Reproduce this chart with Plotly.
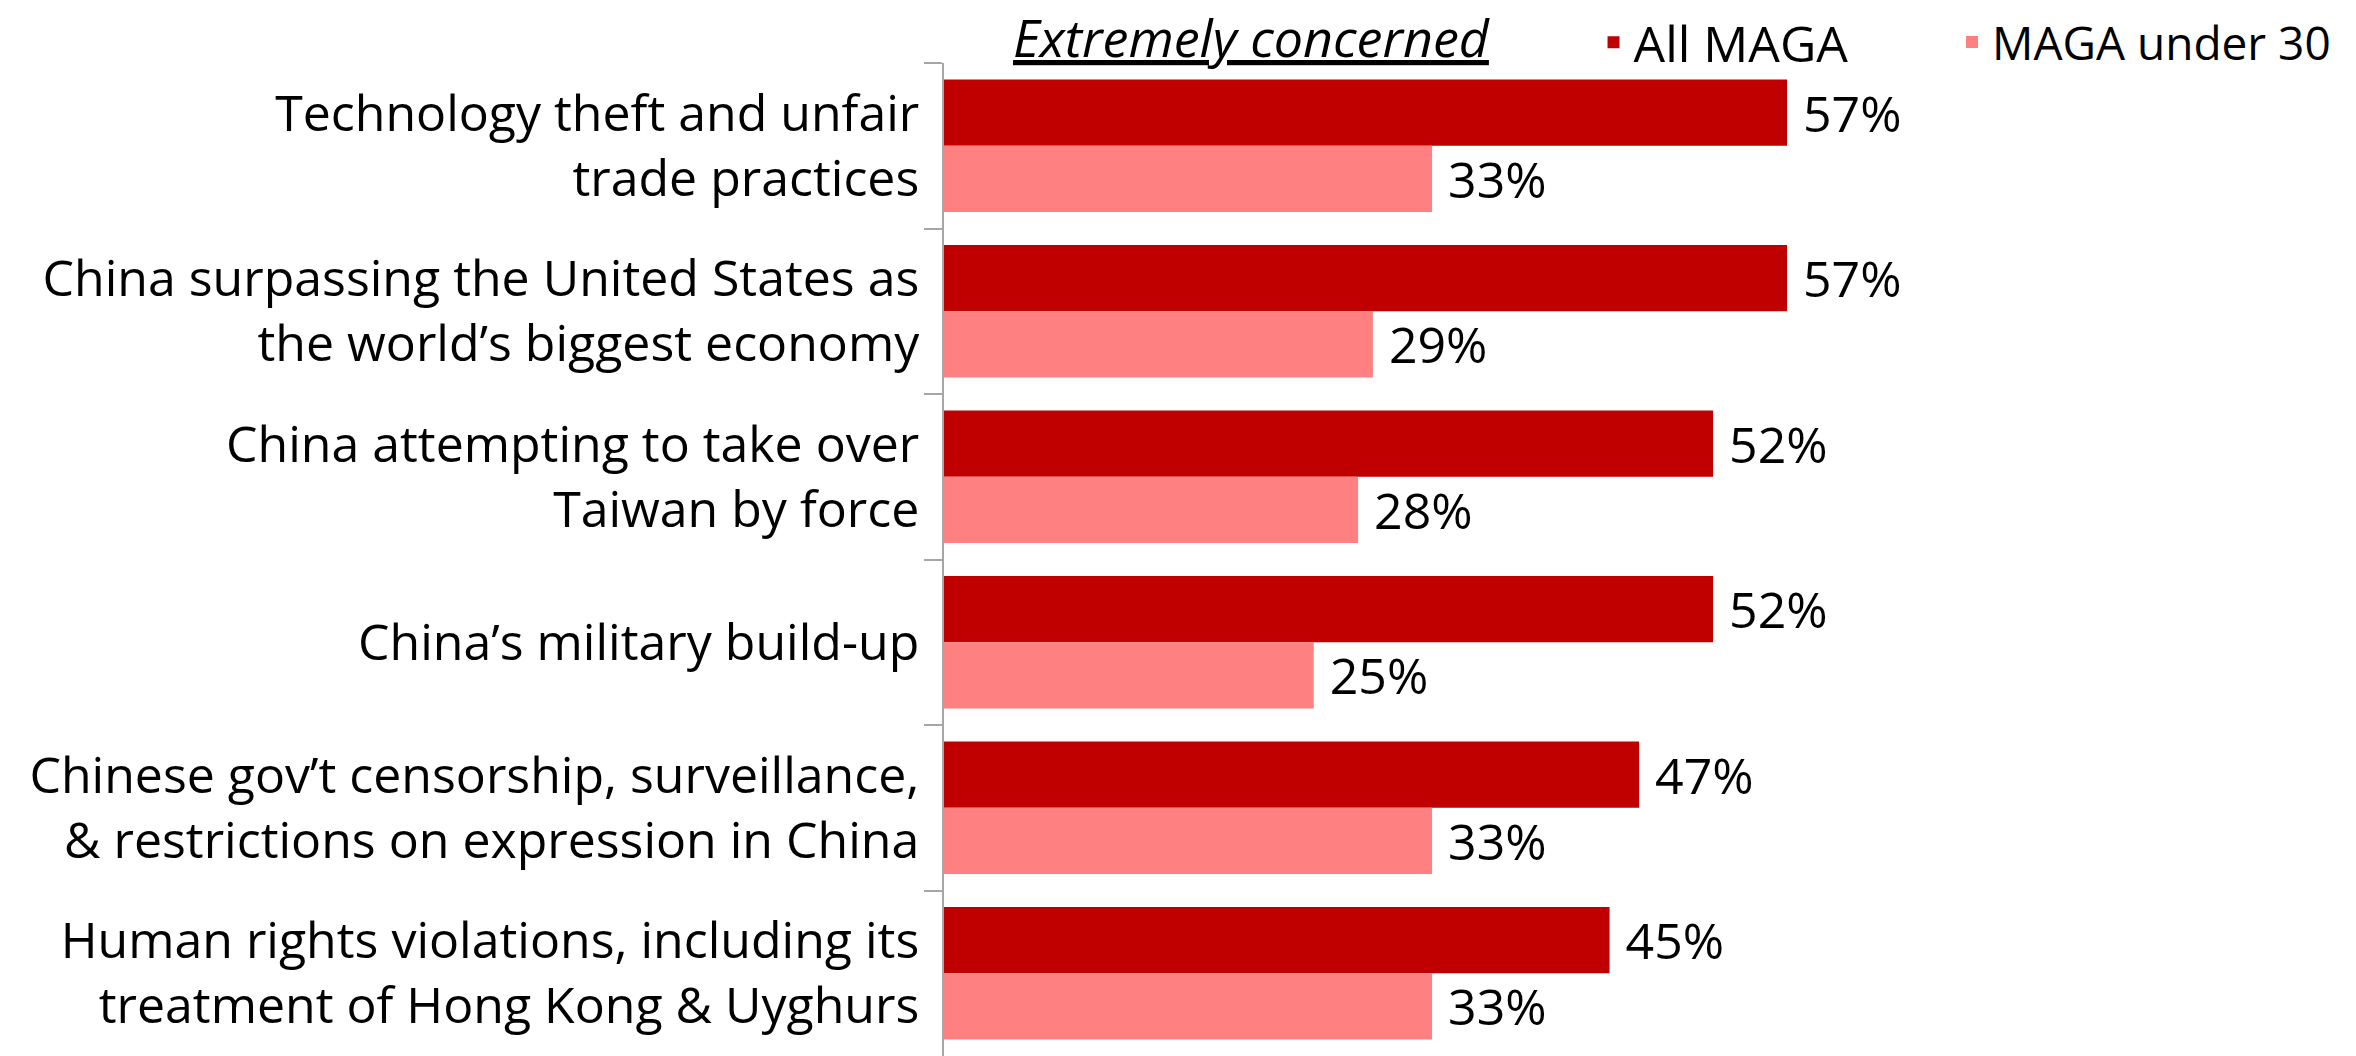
import plotly.graph_objects as go

categories = [
    "Technology theft and unfair<br>trade practices",
    "China surpassing the United States as<br>the world\u2019s biggest economy",
    "China attempting to take over<br>Taiwan by force",
    "China\u2019s military build-up",
    "Chinese gov\u2019t censorship, surveillance,<br>& restrictions on expression in China",
    "Human rights violations, including its<br>treatment of Hong Kong & Uyghurs",
]
all_maga = [57, 57, 52, 52, 47, 45]
maga_under_30 = [33, 29, 28, 25, 33, 33]
series_names = ["All MAGA", "MAGA under 30"]
title_text = "Extremely concerned"

FONT = "Open Sans"
DARK = "#C00000"
LIGHT = "#FF8080"

fig = go.Figure()
for name, vals, col, leg in [(series_names[0], all_maga, DARK, "legend"),
                             (series_names[1], maga_under_30, LIGHT, "legend2")]:
    fig.add_trace(go.Bar(
        y=categories, x=vals, name=name, orientation="h", legend=leg,
        marker=dict(color=col, line=dict(width=0)),
        text=[f" {v}%" for v in vals], textposition="outside",
        textfont=dict(family=FONT, size=50, color="#000000"),
        constraintext="none", cliponaxis=False,
    ))

fig.add_annotation(
    text=f"<i>{title_text}</i>", xref="paper", yref="paper",
    x=0.218, y=1.027, xanchor="center", yanchor="middle", showarrow=False,
    font=dict(family=FONT, size=52, color="#000000", lineposition="under"),
)

legend_common = dict(orientation="h", y=1.021, xanchor="left", yanchor="middle",
                     itemwidth=30, bgcolor="rgba(0,0,0,0)")

fig.update_layout(
    width=2356, height=1056,
    margin=dict(l=944, r=0, t=63, b=0, autoexpand=False),
    paper_bgcolor="white", plot_bgcolor="white",
    barmode="group", bargap=0.2, bargroupgap=0,
    showlegend=True,
    legend=dict(x=0.460, font=dict(family=FONT, size=50, color="#000000"), **legend_common),
    legend2=dict(x=0.7139, font=dict(family=FONT, size=46, color="#000000"), **legend_common),
    font=dict(family=FONT, size=48, color="#000000"),
    xaxis=dict(range=[0, 95.47], visible=False, showgrid=False, zeroline=False),
    yaxis=dict(autorange="reversed", tickson="boundaries", ticks="outside", ticklen=18,
               tickcolor="#A6A6A6", tickwidth=1.5, showline=True, linecolor="#A6A6A6",
               linewidth=1.5, showgrid=False, ticklabelstandoff=13,
               tickfont=dict(family=FONT, size=50, color="#000000")),
)

fig.write_html("out.html", config={"displayModeBar": False},
               post_script="document.body.style.margin='0';")
